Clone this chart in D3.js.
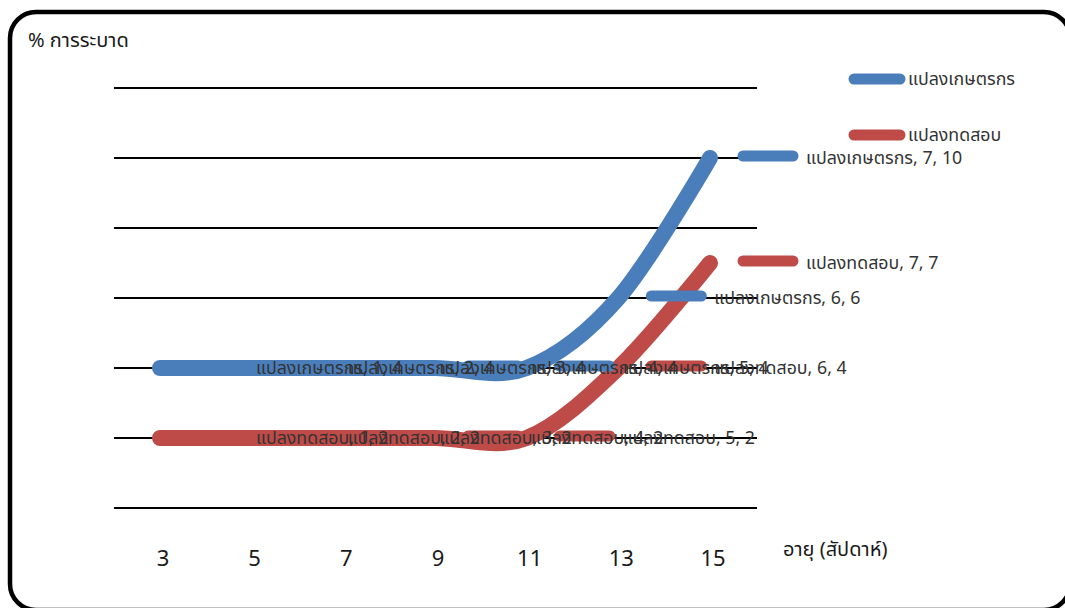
<!DOCTYPE html>
<html>
<head>
<meta charset="utf-8">
<script src="https://cdnjs.cloudflare.com/ajax/libs/d3/7.8.5/d3.min.js"></script>
<style>
  html, body { margin: 0; padding: 0; background: #fff; }
  svg { display: block; font-family: "Noto Sans", "Noto Sans Thai", Tahoma, sans-serif; }
</style>
</head>
<body>
<svg id="chart" width="1065" height="608"></svg>
<script>
// ---- data ----
const weeks = ["3", "5", "7", "9", "11", "13", "15"];
const farmerValues = [4, 4, 4, 4, 4, 6, 10];
const trialValues = [2, 2, 2, 2, 2, 4, 7];
const seriesNames = ["แปลงเกษตรกร", "แปลงทดสอบ"];
const seriesColors = ["#4a7ebb", "#be4b48"];
const yTicks = [0, 2, 4, 6, 8, 10, 12];
const yTitle = "% การระบาด";
const xTitle = "อายุ (สัปดาห์)";

const series = [
  { name: seriesNames[0], values: farmerValues, color: seriesColors[0] },
  { name: seriesNames[1], values: trialValues, color: seriesColors[1] }
];

const svg = d3.select("#chart");

// frame
svg.append("rect")
  .attr("x", 10).attr("y", 12)
  .attr("width", 1060).attr("height", 598)
  .attr("rx", 26).attr("ry", 26)
  .attr("fill", "#fff").attr("stroke", "#000").attr("stroke-width", 4.5);

const idx = weeks.map((d, i) => i);
const x = d3.scalePoint().domain(idx).range([160, 710]);
const y = d3.scaleLinear().domain([0, 12]).range([508, 88]);

// gridlines
svg.append("g").selectAll("line").data(yTicks).join("line")
  .attr("x1", 114).attr("x2", 757)
  .attr("y1", d => y(d)).attr("y2", d => y(d))
  .attr("stroke", "#000").attr("stroke-width", 1.8);

// x tick labels
svg.append("g").selectAll("text").data(weeks).join("text")
  .attr("x", (d, i) => x(i) + 3)
  .attr("y", 566)
  .attr("text-anchor", "middle")
  .attr("font-size", 22)
  .attr("fill", "#1a1a1a")
  .text(d => d);

// axis titles
svg.append("text").attr("x", 28).attr("y", 47)
  .attr("font-size", 20).attr("fill", "#1a1a1a").text(yTitle);
svg.append("text").attr("x", 783).attr("y", 556)
  .attr("font-size", 20).attr("fill", "#1a1a1a").text(xTitle);

// lines
const line = d3.line()
  .x((d, i) => x(i))
  .y(d => y(d))
  .curve(d3.curveCatmullRom.alpha(0));

svg.append("g").selectAll("path").data(series).join("path")
  .attr("d", s => line(s.values))
  .attr("fill", "none")
  .attr("stroke", s => s.color)
  .attr("stroke-width", 16)
  .attr("stroke-linecap", "round")
  .attr("stroke-linejoin", "round");

// data labels (legend key + text)
const labelG = svg.append("g");
series.forEach(s => {
  s.values.forEach((v, i) => {
    labelG.append("line")
      .attr("x1", x(i) + 33).attr("x2", x(i) + 83)
      .attr("y1", y(v) - 2).attr("y2", y(v) - 2)
      .attr("stroke", s.color).attr("stroke-width", 11)
      .attr("stroke-linecap", "round");
  });
});
series.forEach(s => {
  s.values.forEach((v, i) => {
    labelG.append("text")
      .attr("x", x(i) + 96).attr("y", y(v) + 6)
      .attr("font-size", 17.8).attr("fill", "#333")
      .text(`${s.name}, ${i + 1}, ${v}`);
  });
});

// legend
const legend = svg.append("g");
series.forEach((s, k) => {
  const ly = 79 + k * 56;
  legend.append("line")
    .attr("x1", 854).attr("x2", 900)
    .attr("y1", ly).attr("y2", ly)
    .attr("stroke", s.color).attr("stroke-width", 11)
    .attr("stroke-linecap", "round");
  legend.append("text")
    .attr("x", 908).attr("y", ly + 6)
    .attr("font-size", 17.8).attr("fill", "#333")
    .text(s.name);
});
</script>
</body>
</html>
